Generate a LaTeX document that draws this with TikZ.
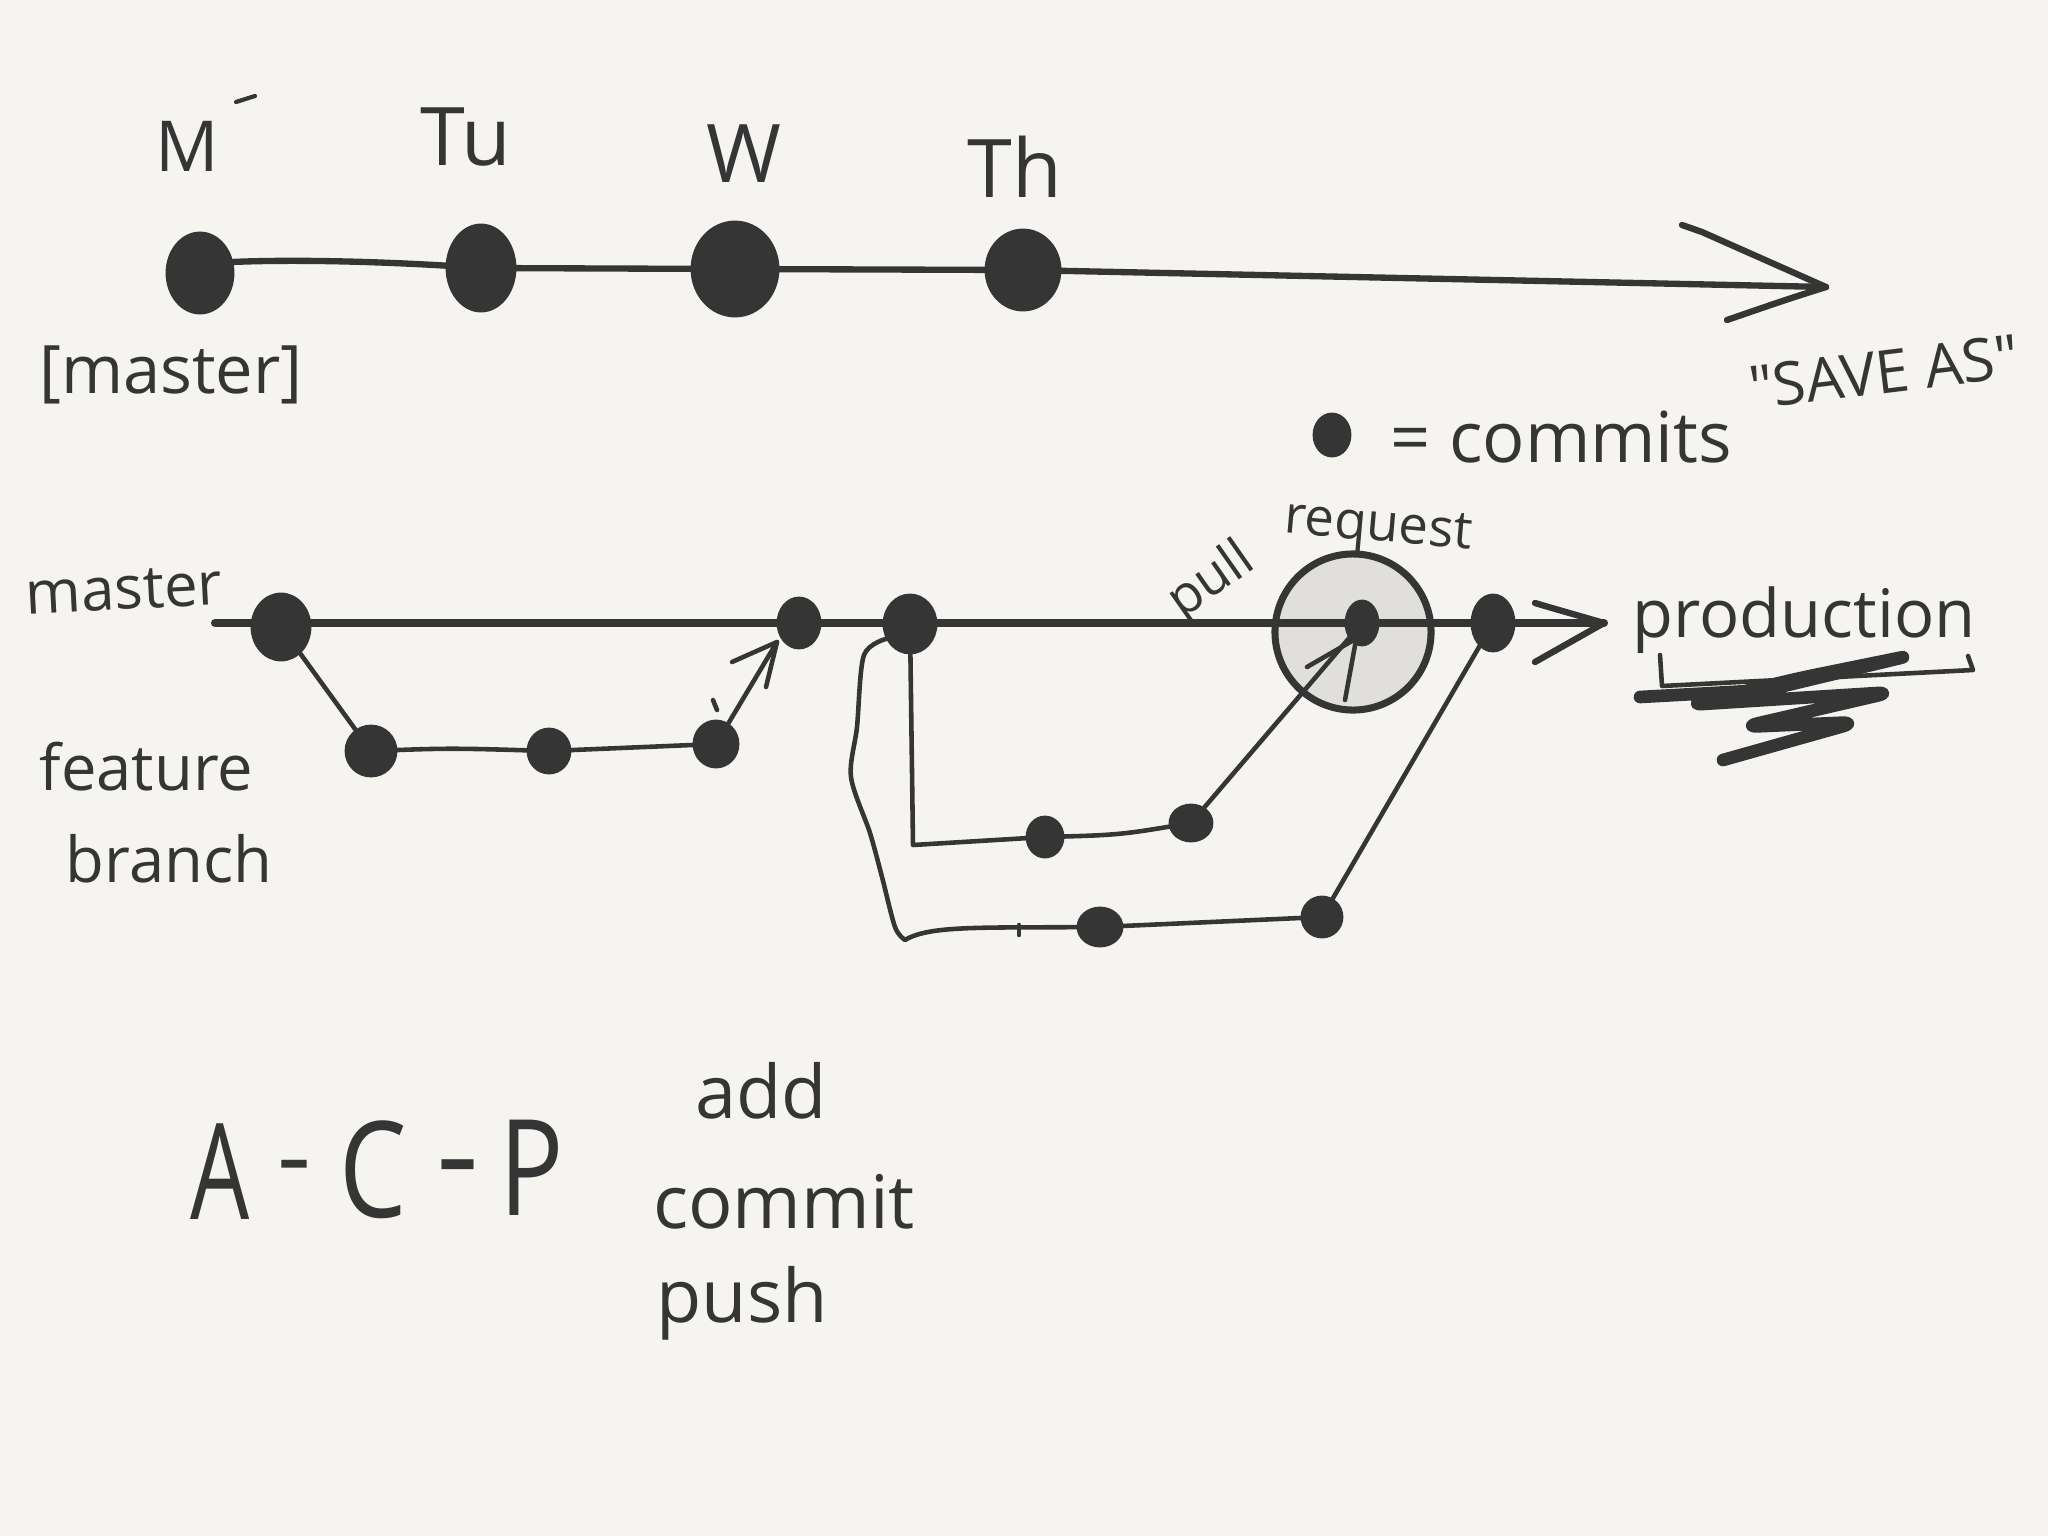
\documentclass[tikz,border=0pt]{standalone}
\usepackage{fontspec}
\setmainfont{Open Sans}
\newfontfamily\qfont{Open Sans}[Ligatures=TeXOff]
\usetikzlibrary{shapes.geometric}
\definecolor{bg}{HTML}{F5F4F0}
\definecolor{ink}{HTML}{353535}
\definecolor{prfill}{HTML}{E0DFDC}
\newcommand\hsz[1]{\fontsize{#1}{#1}\selectfont}
\begin{document}
\begin{tikzpicture}[x=0.01cm,y=-0.01cm,
  dot/.style 2 args={ellipse,fill=ink,draw=ink,line width=0.8pt,inner sep=0pt,minimum width=#1,minimum height=#2},
  ln/.style={draw=ink,line width=1.3pt,line cap=round,line join=round},
  lbl/.style={text=ink,inner sep=0pt}]
\fill[bg] (0,0) rectangle (2048,1536);
\useasboundingbox (0,0) rectangle (2048,1536);

% ---------- top timeline ----------
\node[dot={0.66cm}{0.80cm}] (m) at (200,273) {};
\node[dot={0.68cm}{0.86cm}] (tu) at (481,268) {};
\node[dot={0.86cm}{0.94cm}] (w) at (735,269) {};
\node[dot={0.74cm}{0.80cm}] (th) at (1023,270) {};
\coordinate (tip1) at (1826,287);
\coordinate (b1a) at (1682,225);
\coordinate (b1b) at (1727,320);
\draw[ln,line width=1.8pt] (m.center) -- (232,262) .. controls (300,259) and (400,262) .. (tu.center) -- (w.center) -- (th.center) -- (tip1);
\draw[ln,line width=1.8pt] (b1a) -- (1702,232) -- (tip1) .. controls (1785,300) .. (b1b);

\node[lbl,font=\hsz{20pt}] (lm) at (187,146) {M};
\draw[ln,line width=1.2pt] (236,102) -- (255,96);
\node[lbl,font=\hsz{23pt}] (ltu) at (466,137) {Tu};
\node[lbl,font=\hsz{23pt}] (lw) at (744,154) {W};
\node[lbl,font=\hsz{23pt}] (lth) at (1015,167) {Th};
\node[lbl,font=\hsz{19pt},anchor=base] (lmaster) at (171,393) {[master]};

% legend
\node[dot={0.36cm}{0.42cm}] (leg) at (1332,435) {};
\node[lbl,anchor=west,font=\hsz{20pt}] (commits) at (1390,437) {= commits};
\node[lbl,font=\hsz{17pt}\qfont,rotate=7] (saveas) at (1884,372) {"SAVE AS"};

% ---------- branching diagram ----------
\node[lbl,font=\hsz{17pt},rotate=3] (lmaster2) at (124,590) {master};
\node[circle,fill=prfill,draw=ink,line width=2pt,minimum size=1.56cm] (pr) at (1353,632) {};

\coordinate (ms) at (215,623);
\coordinate (mtip) at (1604,623);
\draw[ln,line width=2.3pt] (ms) -- (mtip);
\draw[ln,line width=1.8pt] (1535,603) -- (1545,606) -- (mtip) -- (1535,662);

\node[dot={0.58cm}{0.66cm}] (d0) at (281,627) {};
\node[dot={0.42cm}{0.50cm}] (d1) at (799,623) {};
\node[dot={0.52cm}{0.58cm}] (d2) at (910,624) {};
\node[dot={0.32cm}{0.44cm}] (d3) at (1362,623) {};
\node[dot={0.42cm}{0.56cm}] (d4) at (1493,623) {};

% feature branch 1
\node[dot={0.50cm}{0.50cm}] (f1) at (371,751) {};
\node[dot={0.42cm}{0.44cm}] (f2) at (549,751) {};
\node[dot={0.44cm}{0.46cm}] (f3) at (716,744) {};
\draw[ln] (d0.center) -- (f1.center) .. controls (450,748) .. (f2.center) -- (f3.center);
\coordinate (fa) at (777,642);
\draw[ln] (f3.center) -- (fa);
\draw[ln] (732,662) -- (fa) -- (766,687);
\draw[ln] (713,700) -- (717,710);

% feature branch 2
\node[dot={0.36cm}{0.40cm}] (g1) at (1045,837) {};
\node[dot={0.42cm}{0.36cm}] (g2) at (1191,823) {};
\coordinate (c2) at (913,845);
\draw[ln] (d2.center) -- (c2) -- (g1.center) .. controls (1120,835) .. (g2.center);
\draw[ln] (g2) -- (d3.center);
\draw[ln] (1307,667) -- (1352,641);
\draw[ln] (1345,700) -- (1356,640);

% feature branch 3
\node[dot={0.44cm}{0.38cm}] (h1) at (1100,927) {};
\node[dot={0.40cm}{0.40cm}] (h2) at (1322,917) {};
\draw[ln] (d2.center) -- plot[smooth,tension=0.5] coordinates {(889,638) (864,655) (857,727) (851,777) (870,833) (882,877) (895,927) (905,940)} .. controls (930,925) and (980,928) .. (h1.center) -- (h2.center);
\draw[ln] (h2) -- (d4.center);
\draw[ln] (1019,925) -- (1019,935);

% pull request label
\node[lbl,font=\hsz{15pt},rotate=35] (lpull) at (1212,582) {pull};
\node[lbl,font=\hsz{15pt},rotate=-5] (lreq) at (1378,530) {request};

% production
\node[lbl,font=\hsz{19pt},anchor=base west] (prod) at (1632,637) {production};
\draw[ln] (1660,655) -- (1662,686) -- (1973,670) -- (1968,656);
\draw[draw=ink,line width=3.6pt,line cap=round,line join=round,rounded corners=5pt]
  (1640,697) -- (1767,690) -- (1913,655) -- (1800,678) -- (1687,705) -- (1893,692) -- (1742,727) -- (1858,722) -- (1723,760);

% A-C-P
\node[lbl,font=\hsz{38pt}] (la) at (220,1172) {\scalebox{0.7}[1]{A}};
\node[lbl,font=\hsz{30pt}] (ld1) at (294,1176) {-};
\node[lbl,font=\hsz{38pt}] (lc) at (373,1170) {\scalebox{0.8}[1]{C}};
\node[lbl,font=\hsz{38pt}] (ld2) at (458,1180) {-};
\node[lbl,font=\hsz{38pt}] (lp) at (532,1168) {\scalebox{0.8}[1]{P}};

\node[lbl,font=\hsz{21pt},anchor=base] (ladd) at (761,1118) {add};
\node[lbl,font=\hsz{21pt},anchor=base] (lcommit) at (784,1228) {commit};
\node[lbl,font=\hsz{21pt},anchor=base] (lpush) at (742,1322) {push};

% feature branch label
\node[lbl,font=\hsz{18pt},anchor=base west] (lfeat) at (39,790) {feature};
\node[lbl,font=\hsz{18pt},anchor=base west] (lbranch) at (65,882) {branch};
\end{tikzpicture}
\end{document}
